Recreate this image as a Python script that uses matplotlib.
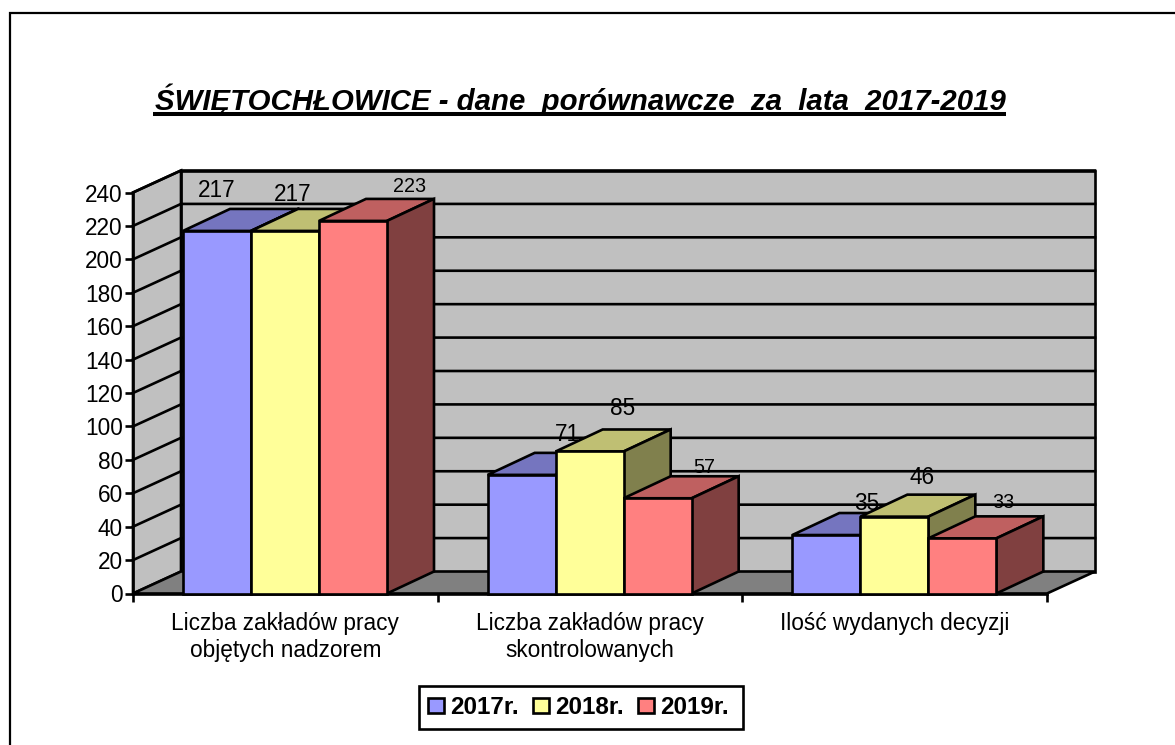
import matplotlib
matplotlib.use('Agg')
import matplotlib.pyplot as plt
from matplotlib.lines import Line2D
from matplotlib.patches import Patch, Polygon, Rectangle

plt.rcParams['font.family'] = ['Liberation Sans', 'DejaVu Sans']

# DATA
categories = ['Liczba zakładów pracy\nobjętych nadzorem',
              'Liczba zakładów pracy\nskontrolowanych',
              'Ilość wydanych decyzji']
years = ['2017r.', '2018r.', '2019r.']
values_2017 = [217, 71, 35]
values_2018 = [217, 85, 46]
values_2019 = [223, 57, 33]
y_ticks = list(range(0, 241, 20))

title = 'ŚWIĘTOCHŁOWICE - dane  porównawcze  za  lata  2017-2019'

# colours: front, top, side
front_colors = ['#9999FF', '#FFFF99', '#FF8080']
top_colors = ['#7575BF', '#BFBF73', '#BF6060']
side_colors = ['#4D4D80', '#80804D', '#804040']

# label offset in pixels from the front top left corner of each bar, and font size
label_offsets = [[(34, 40), (42, 36), (91, 34)],
                 [(80, 40), (67, 43), (81, 31)],
                 [(74, 32), (62, 39), (75, 36)]]
label_sizes = [[16.3, 16.3, 14.2], [16.3, 16.3, 14.2], [16.3, 16.3, 14.2]]

W, H = 1175, 745
LW = 1.9  # about 2.6 px

fig = plt.figure(figsize=(W / 100, H / 100), dpi=100, facecolor='white')
ax = fig.add_axes([133 / W, (H - 593.5) / H, 914 / W, 401 / H])
ax.set_xlim(0, 3)
ax.set_ylim(0, 240)
ax.patch.set_visible(False)

# depth of the fake 3d box, in data units
wall_dx = 48 / 914 * 3
wall_dy = 22 / 401 * 240
bar_dx = 47 / 914 * 3
bar_dy = 22 / 401 * 240
bar_w = 68 / 914 * 3
bar_start = 50 / 914 * 3


def poly(points, color, z, lw=LW):
    ax.add_patch(Polygon(points, closed=True, facecolor=color, edgecolor='black',
                         linewidth=lw, joinstyle='miter', clip_on=False, zorder=z))


# walls and floor
poly([(wall_dx, wall_dy), (3 + wall_dx, wall_dy), (3 + wall_dx, 240 + wall_dy), (wall_dx, 240 + wall_dy)], '#C0C0C0', 1)
poly([(0, 0), (wall_dx, wall_dy), (wall_dx, 240 + wall_dy), (0, 240)], '#C0C0C0', 1)
poly([(0, 0), (3, 0), (3 + wall_dx, wall_dy), (wall_dx, wall_dy)], '#808080', 1.1)

for v in y_ticks[1:]:
    ax.plot([0, wall_dx, 3 + wall_dx], [v, v + wall_dy, v + wall_dy], color='black',
            linewidth=LW, clip_on=False, zorder=1.2, solid_joinstyle='miter')

# bars, drawn one after the other so later bars cover earlier labels
all_values = [values_2017, values_2018, values_2019]
z = 3
for c in range(len(categories)):
    for s in range(len(years)):
        v = all_values[s][c]
        x0 = c + bar_start + s * bar_w
        x1 = x0 + bar_w
        ax.bar(x0, v, width=bar_w, align='edge', facecolor=front_colors[s], edgecolor='black',
               linewidth=LW, clip_on=False, zorder=z + 0.2)
        poly([(x0, v), (x1, v), (x1 + bar_dx, v + bar_dy), (x0 + bar_dx, v + bar_dy)], top_colors[s], z)
        poly([(x1, 0), (x1 + bar_dx, bar_dy), (x1 + bar_dx, v + bar_dy), (x1, v)], side_colors[s], z)
        off = label_offsets[c][s]
        ax.annotate(str(v), (x0, v), xytext=off, textcoords='offset pixels', ha='center', va='center',
                    fontsize=label_sizes[c][s], color='black', zorder=z + 0.3, annotation_clip=False)
        z += 1

# axes
for side in ['top', 'right']:
    ax.spines[side].set_visible(False)
for side in ['left', 'bottom']:
    ax.spines[side].set_linewidth(LW)
    ax.spines[side].set_zorder(2.5)

ax.set_yticks(y_ticks)
ax.tick_params(axis='y', length=5.8, width=LW, labelsize=16.3, pad=1.5)
ax.set_xticks([0, 1, 2, 3])
ax.set_xticklabels([])
ax.tick_params(axis='x', which='major', length=5.8, width=LW)
ax.set_xticks([0.5, 1.5, 2.5], minor=True)
ax.set_xticklabels(categories, minor=True, fontsize=16.3, linespacing=1.26)
ax.tick_params(axis='x', which='minor', length=0, pad=13)

# title with a drawn underline
fig.text(580 / W, (H - 110) / H, title, ha='center', va='baseline', fontsize=21.2,
         fontweight='bold', fontstyle='italic')
fig.add_artist(Line2D([153 / W, 1006 / W], [(H - 114) / H] * 2, color='black', linewidth=2.9,
                      solid_capstyle='butt'))

# outer frame, open on the right and at the bottom
fig.add_artist(Line2D([10 / W, 10 / W, 1 + 5 / W], [0, (H - 13) / H, (H - 13) / H], color='black',
                      linewidth=1.6, solid_joinstyle='miter'))

# legend, frame drawn apart because the reference has more room on the right
fig.add_artist(Rectangle((419 / W, (H - 729) / H), 324 / W, 43 / H, transform=fig.transFigure,
                         facecolor='white', edgecolor='black', linewidth=LW, joinstyle='miter'))
handles = [Patch(facecolor=col, edgecolor='black', linewidth=LW) for col in front_colors]
leg = fig.legend(handles, years, loc='center left', bbox_to_anchor=(419 / W, (H - 707.5) / H), ncol=3,
                 frameon=False, prop={'size': 17.5, 'weight': 'bold'}, handlelength=0.66, handleheight=0.62,
                 handletextpad=0.25, columnspacing=0.58, borderpad=0.37, borderaxespad=0)

fig.savefig('out.png', dpi=100)
